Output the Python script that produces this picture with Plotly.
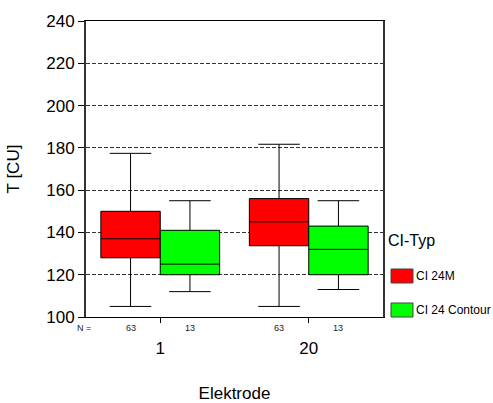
import plotly.graph_objects as go

electrodes = ["1", "20"]
series_names = ["CI 24M", "CI 24 Contour"]
colors = ["#ff0000", "#00ff00"]
legend_title = "CI-Typ"

# box statistics per series (electrode 1, electrode 20)
lower_whisker = {"CI 24M": [105, 105], "CI 24 Contour": [112, 113]}
q1 = {"CI 24M": [128, 133.7], "CI 24 Contour": [120, 120]}
median = {"CI 24M": [137, 145], "CI 24 Contour": [125, 132]}
q3 = {"CI 24M": [150, 156], "CI 24 Contour": [141, 143]}
upper_whisker = {"CI 24M": [177.4, 181.7], "CI 24 Contour": [155, 155]}
n_counts = {"CI 24M": [63, 63], "CI 24 Contour": [13, 13]}

y_ticks = [100, 120, 140, 160, 180, 200, 220, 240]

fig = go.Figure()
for i, name in enumerate(series_names):
    fig.add_trace(go.Box(
        x=electrodes,
        q1=q1[name], median=median[name], q3=q3[name],
        lowerfence=lower_whisker[name], upperfence=upper_whisker[name],
        name=name,
        fillcolor=colors[i],
        line=dict(color="#000000", width=1),
        whiskerwidth=0.7,
        boxpoints=False,
        showlegend=False,
    ))

# N = annotations
annotations = [dict(text="N =", x=-0.007, xref="paper", y=-0.037, yref="paper",
                    showarrow=False, font=dict(size=9, color="#222"), xanchor="center", yanchor="middle")]
offsets = [-0.2, 0.2]
for i, name in enumerate(series_names):
    for j, e in enumerate(electrodes):
        annotations.append(dict(text=str(n_counts[name][j]), x=j + offsets[i], xref="x",
                                y=-0.037, yref="paper", showarrow=False,
                                font=dict(size=9, color="#222"), xanchor="center", yanchor="middle"))

# legend drawn as annotations + swatches (paper coordinates)
annotations.append(dict(text=legend_title, x=1.010, xref="paper", y=0.260, yref="paper",
                        showarrow=False, xanchor="left", yanchor="middle", font=dict(size=16)))
shapes = []
leg_rows = [(0.1149, 0.1622), (0.0, 0.0473)]
for i, name in enumerate(series_names):
    y0, y1 = leg_rows[i]
    shapes.append(dict(type="rect", xref="paper", yref="paper", x0=1.027, x1=1.101, y0=y0, y1=y1,
                       fillcolor=colors[i], line=dict(color="#444", width=1)))
    annotations.append(dict(text=name, x=1.103, xref="paper", y=(y0 + y1) / 2, yref="paper",
                            showarrow=False, xanchor="left", yanchor="middle", font=dict(size=12)))

font_family = "Liberation Sans, Arial, sans-serif"
fig.update_layout(
    width=493, height=403,
    margin=dict(l=86, r=110, t=21, b=86, autoexpand=False),
    paper_bgcolor="white", plot_bgcolor="white",
    font=dict(family=font_family, color="#000", size=17),
    boxmode="group", boxgap=0.2, boxgroupgap=0,
    showlegend=False,
    annotations=annotations,
    shapes=shapes,
)
fig.update_xaxes(
    type="category", range=[-0.5, 1.5], automargin=False,
    showline=True, linecolor="#000", linewidth=1, mirror=True,
    ticks="outside", ticklen=5, tickcolor="#000",
    ticklabelstandoff=11,
    tickfont=dict(size=17),
    showgrid=False,
    title=dict(text="Elektrode", font=dict(size=17), standoff=31),
)
fig.update_yaxes(
    range=[100, 240], tickvals=y_ticks, automargin=False,
    showline=True, linecolor="#333", linewidth=2, mirror=True,
    ticks="outside", ticklen=6, tickcolor="#000",
    tickfont=dict(size=17),
    showgrid=True, gridcolor="#333", gridwidth=1, griddash="4px,2px",
    zeroline=False,
    title=dict(text="T [CU]", font=dict(size=17), standoff=22),
)

fig.write_html("out.html", config={"displayModeBar": False},
               post_script="document.body.style.margin='0px';")
